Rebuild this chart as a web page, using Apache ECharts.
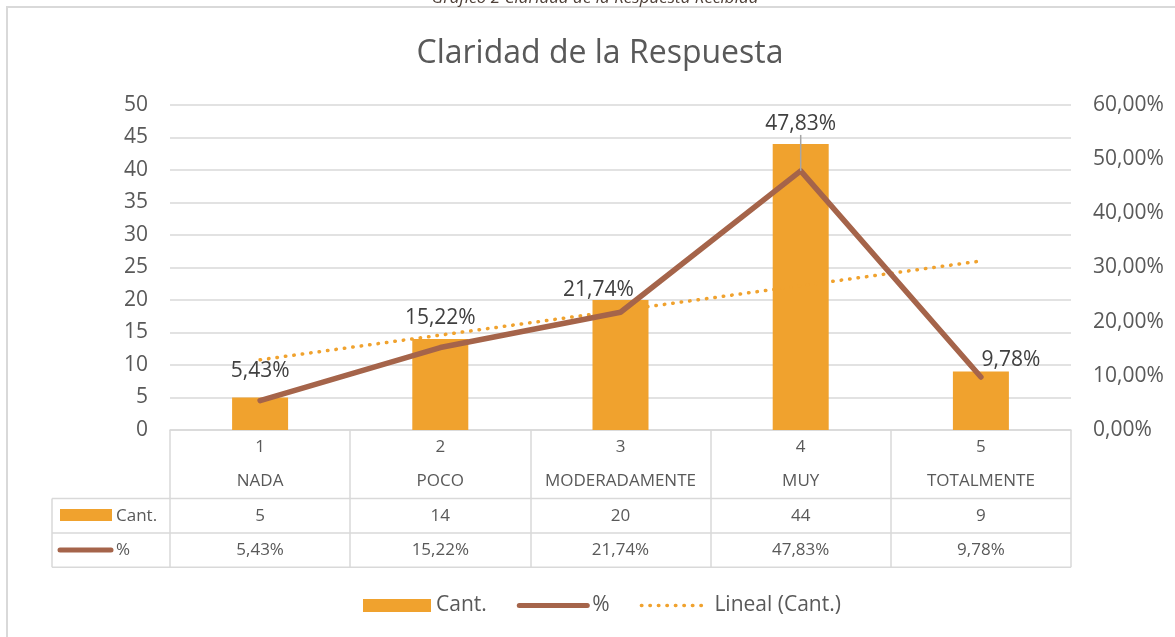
<!DOCTYPE html>
<html>
<head>
<meta charset="utf-8">
<script src="https://cdn.jsdelivr.net/npm/echarts@6/dist/echarts.min.js"></script>
<style>html,body{margin:0;padding:0;background:#fff}#c{width:1175px;height:637px}</style>
</head>
<body>
<div id="c"></div>
<script>
// ---- data ----
const categoryNumbers = ['1', '2', '3', '4', '5'];
const categories = ['NADA', 'POCO', 'MODERADAMENTE', 'MUY', 'TOTALMENTE'];
const cantValues = [5, 14, 20, 44, 9];
const pctValues = [5.43, 15.22, 21.74, 47.83, 9.78];
const trendValues = [10.8, 14.6, 18.4, 22.2, 26.0];
const leftAxisTicks = [0, 5, 10, 15, 20, 25, 30, 35, 40, 45, 50];
const rightAxisTicks = [0, 10, 20, 30, 40, 50, 60];
const titleText = 'Claridad de la Respuesta';
const captionText = 'Gráfico 2 Claridad de la Respuesta Recibida';
const seriesNames = ['Cant.', '%', 'Lineal (Cant.)'];

// ---- styles / layout ----
const FONT = '"Open Sans", "Noto Sans", sans-serif';
const BAR = '#F0A22E';
const BROWN = '#A5644A';
const GRIDC = '#D9D9D9';
const TXT = '#595959';
const G_LEFT = 170, G_RIGHT_X = 1071, G_TOP = 105, AXIS_Y = 430;
const ROW = 34.3;
const TABLE_LEFT = 52;
const labelShift = [[0, -14], [0, -14], [-22, -7], [0, -31], [30, -2]];

const fmtPct = v => v.toFixed(2).replace('.', ',') + '%';

const rowY = [AXIS_Y + 2 * ROW, AXIS_Y + 3 * ROW, AXIS_Y + 4 * ROW];
const graphics = [
  { type: 'rect', shape: { x: 7, y: 7, width: 1200, height: 700 }, style: { fill: 'none', stroke: GRIDC, lineWidth: 2 }, silent: true },
  { type: 'text', x: 595, y: 7, style: { text: captionText, font: 'italic 17px ' + FONT, fill: '#4E4038', textAlign: 'center', textVerticalAlign: 'bottom' } }
];
rowY.forEach(y => graphics.push({ type: 'line', shape: { x1: TABLE_LEFT, y1: y, x2: G_RIGHT_X, y2: y }, style: { stroke: GRIDC, lineWidth: 1.5 } }));
graphics.push({ type: 'line', shape: { x1: TABLE_LEFT, y1: rowY[0], x2: TABLE_LEFT, y2: rowY[2] }, style: { stroke: GRIDC, lineWidth: 1.5 } });
// legend keys inside the data table
graphics.push({ type: 'rect', shape: { x: 60, y: rowY[0] + 10.5, width: 52, height: 12 }, style: { fill: BAR } });
graphics.push({ type: 'text', x: 116, y: rowY[0] + ROW / 2, style: { text: seriesNames[0], font: '17px ' + FONT, fill: TXT, textVerticalAlign: 'middle' } });
graphics.push({ type: 'line', shape: { x1: 60, y1: rowY[1] + ROW / 2, x2: 111, y2: rowY[1] + ROW / 2 }, style: { stroke: BROWN, lineWidth: 5, lineCap: 'round' } });
graphics.push({ type: 'text', x: 116, y: rowY[1] + ROW / 2, style: { text: seriesNames[1], font: '17px ' + FONT, fill: TXT, textVerticalAlign: 'middle' } });

const pctData = pctValues.map((v, i) => i === 3
  ? { value: v, labelLine: { show: true, lineStyle: { color: '#A6A6A6', width: 1.5 } } }
  : { value: v });

const option = {
  animation: false,
  textStyle: { fontFamily: FONT },
  title: {
    text: titleText, left: 595, textAlign: 'center', top: 33,
    textStyle: { fontSize: 32, fontWeight: 'normal', color: TXT, fontFamily: FONT }
  },
  legend: {
    left: 358, top: 590, itemWidth: 68, itemHeight: 13, itemGap: 30,
    textStyle: { fontSize: 21, color: TXT, fontFamily: FONT },
    data: [
      { name: seriesNames[0], icon: 'rect' },
      { name: seriesNames[1], itemStyle: { opacity: 0 }, lineStyle: { width: 5, color: BROWN, cap: 'round' } },
      { name: seriesNames[2], itemStyle: { opacity: 0 }, lineStyle: { width: 3.5, color: BAR, type: [0.5, 8], cap: 'round' } }
    ]
  },
  grid: { left: G_LEFT, right: 1175 - G_RIGHT_X, top: G_TOP, bottom: 637 - AXIS_Y },
  xAxis: {
    type: 'category', data: categories,
    axisLine: { show: true, lineStyle: { color: GRIDC, width: 1.5 } },
    axisTick: { show: true, length: 4 * ROW, interval: 0, lineStyle: { color: GRIDC, width: 1.5 } },
    axisLabel: {
      interval: 0, margin: 0, fontSize: 17, color: TXT, lineHeight: ROW, fontFamily: FONT,
      formatter: (val, i) => [categoryNumbers[i], categories[i], String(cantValues[i]), fmtPct(pctValues[i])].join('\n')
    }
  },
  yAxis: [
    {
      type: 'value', min: leftAxisTicks[0], max: leftAxisTicks[leftAxisTicks.length - 1], interval: leftAxisTicks[1] - leftAxisTicks[0],
      axisLine: { show: false }, axisTick: { show: false },
      axisLabel: { fontSize: 21, color: TXT, margin: 22, fontFamily: FONT },
      splitLine: { lineStyle: { color: GRIDC, width: 1.5 } }
    },
    {
      type: 'value', min: rightAxisTicks[0], max: rightAxisTicks[rightAxisTicks.length - 1], interval: rightAxisTicks[1] - rightAxisTicks[0],
      axisLine: { show: false }, axisTick: { show: false }, splitLine: { show: false },
      axisLabel: { fontSize: 21, color: TXT, margin: 22, fontFamily: FONT, formatter: v => fmtPct(v) }
    }
  ],
  series: [
    { name: seriesNames[0], type: 'bar', data: cantValues, barWidth: 56, itemStyle: { color: BAR }, yAxisIndex: 0, z: 2 },
    {
      name: seriesNames[2], type: 'line', data: trendValues, yAxisIndex: 0, symbol: 'none', z: 3,
      lineStyle: { color: BAR, width: 3.5, type: [0.5, 8], cap: 'round' }, itemStyle: { color: BAR }
    },
    {
      name: seriesNames[1], type: 'line', data: pctData, yAxisIndex: 1, symbol: 'circle', symbolSize: 0.01, showSymbol: true, z: 4,
      lineStyle: { color: BROWN, width: 5.5, cap: 'round', join: 'round' }, itemStyle: { color: BROWN },
      label: { show: true, position: 'top', distance: 5, fontSize: 21, color: '#404040', fontFamily: FONT, formatter: p => fmtPct(p.value) },
      labelLine: { show: false },
      labelLayout: p => ({ dx: labelShift[p.dataIndex][0], dy: labelShift[p.dataIndex][1] })
    }
  ],
  graphic: graphics
};
const chart = echarts.init(document.getElementById('c'), null, { renderer: 'canvas' });
chart.setOption(option);
</script>
</body>
</html>
